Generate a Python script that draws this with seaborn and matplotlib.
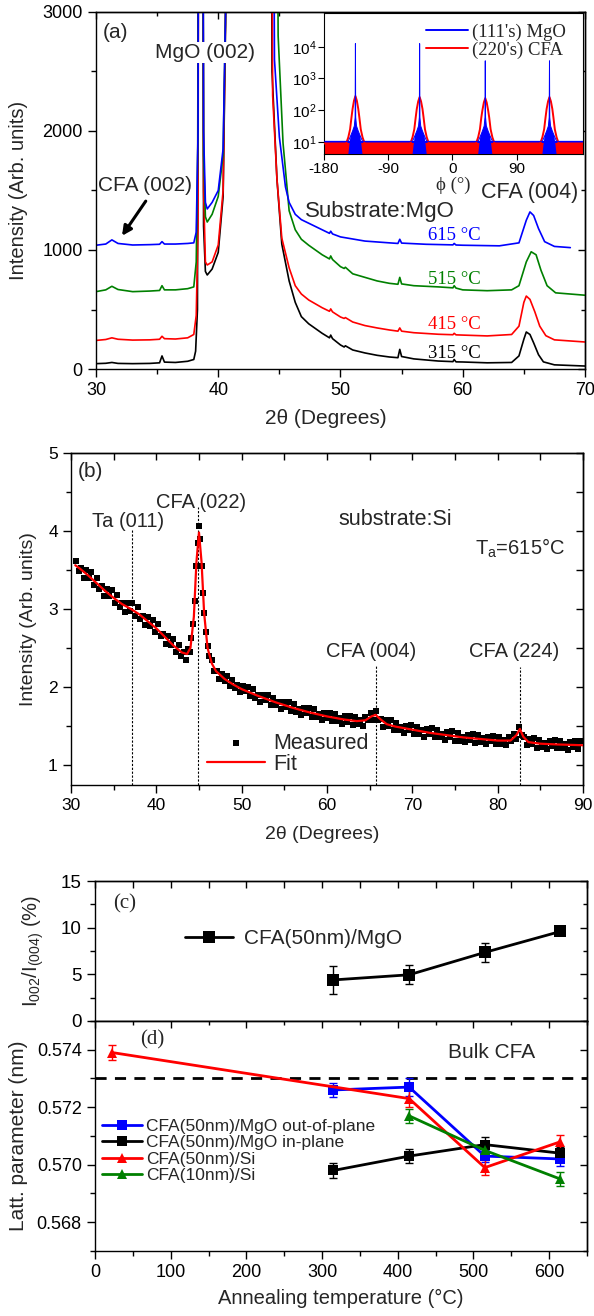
import numpy as np
import pandas as pd
import matplotlib
matplotlib.use("Agg")
import matplotlib.pyplot as plt
import seaborn as sns
from matplotlib.ticker import MultipleLocator, NullLocator, NullFormatter, FixedLocator, FormatStrFormatter

# ======================= DATA =======================
# (a) 2theta scans of CFA(50nm)/MgO annealed at different temperatures (2theta, intensity)
scan_315 = [(30.0, 45), (30.8, 48), (31.3, 55), (31.8, 47), (33.0, 45), (34.4, 47), (35.2, 52), (35.4, 110),
            (35.6, 58), (36.5, 55), (37.5, 65), (38.0, 80), (38.15, 150), (38.3, 500), (38.45, 9000),
            (38.65, 9000), (38.8, 1200), (38.95, 820), (39.1, 790), (39.5, 840), (40.0, 980), (40.4, 1450),
            (40.6, 2900), (40.75, 9000), (44.2, 9000), (44.4, 2500), (44.8, 1600), (45.2, 1050), (45.8, 740),
            (46.3, 560), (46.8, 440), (47.4, 380), (48.5, 300), (49.1, 262), (49.2, 285), (49.35, 255),
            (50.0, 202), (50.3, 185), (50.4, 195), (51.0, 160), (52.0, 135), (53.0, 115), (54.0, 101),
            (54.7, 95), (54.85, 165), (55.0, 105), (56.0, 85), (58.0, 67), (59.2, 62), (59.3, 80), (59.45, 60),
            (60.0, 59), (62.0, 52), (64.0, 55), (64.6, 110), (65.0, 250), (65.2, 311), (65.5, 290),
            (65.8, 220), (66.2, 120), (66.6, 60), (67.5, 35), (70.0, 25)]
scan_415 = [(30.0, 240), (30.8, 248), (31.3, 262), (31.8, 250), (33.0, 243), (34.4, 245), (35.2, 250),
            (35.4, 275), (35.6, 255), (36.5, 252), (37.5, 262), (38.0, 290), (38.2, 450), (38.35, 1200),
            (38.45, 9000), (38.65, 9000), (38.8, 1500), (38.95, 900), (39.1, 874), (39.5, 900), (40.0, 1042),
            (40.4, 1500), (40.6, 3000), (40.75, 9000), (44.2, 9000), (44.45, 2300), (44.8, 1600), (45.2, 1100),
            (45.8, 850), (46.3, 700), (46.8, 630), (47.4, 580), (48.5, 515), (49.1, 485), (49.2, 505),
            (49.35, 480), (50.0, 437), (50.3, 425), (50.4, 432), (51.0, 395), (52.0, 365), (53.0, 345),
            (54.0, 328), (54.7, 318), (54.85, 345), (55.0, 318), (56.0, 305), (58.0, 292), (59.2, 288),
            (59.3, 300), (59.45, 287), (60.0, 285), (62.0, 278), (64.0, 290), (64.6, 360), (65.0, 560),
            (65.2, 613), (65.5, 585), (65.9, 480), (66.3, 360), (66.8, 280), (67.5, 245), (70.0, 227)]
scan_515 = [(30.0, 650), (30.8, 665), (31.3, 695), (31.8, 668), (33.0, 650), (34.4, 655), (35.2, 660),
            (35.4, 700), (35.6, 665), (36.5, 665), (37.5, 675), (38.0, 690), (38.2, 900), (38.35, 2000),
            (38.45, 9000), (38.65, 9000), (38.8, 1800), (38.95, 1280), (39.1, 1235), (39.5, 1300), (40.0, 1450),
            (40.4, 1800), (40.6, 3000), (40.75, 9000), (44.6, 9000), (44.9, 2800), (45.3, 1900), (45.8, 1330),
            (46.3, 1170), (46.8, 1090), (47.4, 1040), (48.5, 960), (49.1, 925), (49.2, 950), (49.35, 920),
            (50.0, 860), (50.3, 845), (50.4, 855), (51.0, 800), (52.0, 770), (53.0, 740), (54.0, 720),
            (54.7, 712), (54.85, 770), (55.0, 715), (56.0, 700), (58.0, 690), (59.2, 682), (59.3, 700),
            (59.45, 680), (60.0, 665), (62.0, 658), (64.0, 665), (64.6, 700), (65.2, 900), (65.6, 985),
            (66.0, 960), (66.4, 830), (66.9, 700), (67.6, 640), (70.0, 620)]
scan_615 = [(30.0, 1040), (30.8, 1050), (31.3, 1085), (31.8, 1055), (33.0, 1042), (34.4, 1045), (35.2, 1048),
            (35.4, 1070), (35.6, 1050), (36.5, 1050), (37.5, 1055), (38.0, 1060), (38.2, 1150), (38.35, 2000),
            (38.45, 9000), (38.65, 9000), (38.8, 2000), (38.95, 1400), (39.1, 1345), (39.5, 1400), (40.0, 1500),
            (40.4, 1850), (40.6, 3000), (40.75, 9000), (44.3, 9000), (44.6, 2600), (45.0, 1950), (45.5, 1530),
            (45.8, 1400), (46.3, 1300), (46.8, 1255), (47.4, 1225), (48.5, 1170), (49.1, 1140), (49.2, 1158),
            (49.35, 1135), (50.0, 1110), (52.0, 1075), (54.0, 1060), (54.7, 1055), (54.85, 1090), (55.0, 1058),
            (57.0, 1048), (59.2, 1043), (59.3, 1055), (59.45, 1042), (60.0, 1040), (63.0, 1035), (64.6, 1060),
            (65.2, 1250), (65.5, 1320), (65.8, 1290), (66.2, 1180), (66.7, 1070), (67.5, 1030), (68.8, 1020)]
scan_labels = ["315 °C", "415 °C", "515 °C", "615 °C"]

# (a) inset: phi scans (phi, counts)
phi_cfa220 = [(-180, 9), (-149, 9), (-146, 14), (-143.5, 25), (-141.5, 60), (-140, 110), (-138, 200), (-136, 280),
              (-134, 200), (-132, 110), (-130.5, 60), (-128.5, 25), (-126, 14), (-123, 9),
              (-59, 9), (-56, 14), (-53.5, 25), (-51.5, 60), (-50, 110), (-48, 190), (-46, 260), (-44, 190),
              (-42, 110), (-40.5, 60), (-38.5, 25), (-36, 14), (-33, 9),
              (33, 9), (36, 14), (38.5, 25), (40.5, 60), (42, 100), (44, 175), (46, 240), (48, 175), (50, 100),
              (51.5, 60), (53.5, 25), (56, 14), (59, 9),
              (123, 9), (126, 14), (128.5, 25), (130.5, 60), (132, 110), (134, 190), (136, 260), (138, 190),
              (140, 110), (141.5, 60), (143.5, 25), (146, 14), (149, 9), (183, 9)]
phi_mgo111 = [(-180, 10.5), (-146, 10.5), (-143, 15), (-140, 22), (-137.5, 32), (-136.4, 60), (-136, 12500),
              (-135.6, 60), (-134.5, 32), (-132, 22), (-129, 15), (-126, 10.5),
              (-56, 10.5), (-53, 15), (-50, 22), (-47.5, 32), (-46.4, 60), (-46, 12500), (-45.6, 60), (-44.5, 32),
              (-42, 22), (-39, 15), (-36, 10.5),
              (36, 10.5), (39, 15), (42, 22), (44.5, 32), (45.6, 60), (46, 3600), (46.4, 60), (47.5, 32), (50, 22),
              (53, 15), (56, 10.5),
              (126, 10.5), (129, 15), (132, 22), (134.5, 32), (135.6, 60), (136, 3600), (136.4, 60), (137.5, 32),
              (140, 22), (143, 15), (146, 10.5), (183, 10.5)]
mgo_noise_level = 10.5
cfa_noise_level = 9.5

# (b) CFA on Si, Ta = 615 C (2theta, intensity)
measured_b = [
    (30.6, 3.62), (30.9, 3.48), (31.2, 3.52), (31.5, 3.39), (31.8, 3.50), (32.1, 3.39), (32.4, 3.47), (32.7, 3.30),
    (33.0, 3.40), (33.3, 3.25), (33.6, 3.29), (33.9, 3.16), (34.2, 3.26), (34.5, 3.16), (34.8, 3.24), (35.1, 3.07),
    (35.4, 3.18), (35.7, 3.03), (36.0, 3.08), (36.3, 2.96), (36.6, 3.07), (36.9, 2.97), (37.2, 3.07), (37.5, 2.91),
    (37.8, 3.02), (38.1, 2.87), (38.4, 2.91), (38.7, 2.79), (39.0, 2.89), (39.3, 2.78), (39.6, 2.86), (39.9, 2.70),
    (40.2, 2.80), (40.5, 2.65), (40.8, 2.68), (41.1, 2.55), (41.4, 2.65), (41.7, 2.53), (42.0, 2.61), (42.3, 2.44),
    (42.6, 2.54), (42.9, 2.40), (43.2, 2.45), (43.5, 2.34), (43.7, 2.48), (43.9, 2.44), (44.1, 2.62), (44.3, 2.80),
    (44.5, 3.10), (44.7, 3.55), (44.85, 3.85), (45.0, 4.06), (45.15, 3.90), (45.3, 3.55), (45.45, 3.20),
    (45.6, 2.95), (45.8, 2.70), (46.0, 2.52), (46.2, 2.40),
    (46.5, 2.35), (46.8, 2.20), (47.1, 2.20), (47.4, 2.10), (47.7, 2.17), (48.0, 2.08), (48.3, 2.14), (48.6, 2.01),
    (48.9, 2.09), (49.2, 1.98), (49.5, 2.02), (49.8, 1.93), (50.1, 2.01), (50.4, 1.94), (50.7, 2.00), (51.0, 1.88),
    (51.3, 1.97), (51.6, 1.86), (51.9, 1.90), (52.2, 1.81), (52.5, 1.90), (52.8, 1.83), (53.1, 1.90), (53.4, 1.77),
    (53.7, 1.86), (54.0, 1.76), (54.3, 1.80), (54.6, 1.72), (54.9, 1.81), (55.2, 1.74), (55.5, 1.81), (55.8, 1.69),
    (56.1, 1.78), (56.4, 1.68), (56.7, 1.72), (57.0, 1.64), (57.3, 1.73), (57.6, 1.66), (57.9, 1.73), (58.2, 1.61),
    (58.5, 1.71), (58.8, 1.61), (59.1, 1.65), (59.4, 1.57), (59.7, 1.67), (60.0, 1.60), (60.3, 1.67), (60.6, 1.56),
    (60.9, 1.65), (61.2, 1.56), (61.5, 1.60), (61.8, 1.52), (62.1, 1.62), (62.4, 1.55), (62.7, 1.63), (63.0, 1.51),
    (63.3, 1.61), (63.6, 1.52), (63.9, 1.57), (64.2, 1.50), (64.5, 1.61), (64.8, 1.57), (65.1, 1.67), (65.4, 1.58),
    (65.7, 1.69), (66.0, 1.57), (66.3, 1.59), (66.6, 1.49), (66.9, 1.57), (67.2, 1.50), (67.5, 1.57), (67.8, 1.45),
    (68.1, 1.54), (68.4, 1.44), (68.7, 1.49), (69.0, 1.41), (69.3, 1.50), (69.6, 1.44), (69.9, 1.51), (70.2, 1.40),
    (70.5, 1.49), (70.8, 1.39), (71.1, 1.44), (71.4, 1.36), (71.7, 1.46), (72.0, 1.39), (72.3, 1.47), (72.6, 1.35),
    (72.9, 1.45), (73.2, 1.35), (73.5, 1.40), (73.8, 1.32), (74.1, 1.42), (74.4, 1.35), (74.7, 1.43), (75.0, 1.31),
    (75.3, 1.41), (75.6, 1.31), (75.9, 1.36), (76.2, 1.29), (76.5, 1.38), (76.8, 1.32), (77.1, 1.40), (77.4, 1.28),
    (77.7, 1.38), (78.0, 1.29), (78.3, 1.34), (78.6, 1.26), (78.9, 1.36), (79.2, 1.30), (79.5, 1.37), (79.8, 1.26),
    (80.1, 1.36), (80.4, 1.27), (80.7, 1.32), (81.0, 1.25), (81.3, 1.35), (81.6, 1.30), (81.9, 1.40), (82.2, 1.33),
    (82.5, 1.49), (82.8, 1.38), (83.1, 1.36), (83.4, 1.25), (83.7, 1.33), (84.0, 1.26), (84.3, 1.34), (84.6, 1.22),
    (84.9, 1.32), (85.2, 1.23), (85.5, 1.28), (85.8, 1.20), (86.1, 1.30), (86.4, 1.24), (86.7, 1.32), (87.0, 1.21),
    (87.3, 1.31), (87.6, 1.22), (87.9, 1.26), (88.2, 1.19), (88.5, 1.29), (88.8, 1.23), (89.1, 1.31), (89.4, 1.20),
    (89.7, 1.30)]
fit_b = [(30.5, 3.56), (31, 3.52), (32, 3.43), (33, 3.33), (34, 3.23), (35, 3.14), (36, 3.06), (37, 3.00),
         (38, 2.93), (39, 2.84), (40, 2.75), (41, 2.64), (42, 2.53), (43, 2.44), (43.6, 2.42), (44.0, 2.50),
         (44.4, 2.90), (44.7, 3.60), (45.0, 3.98), (45.3, 3.60), (45.6, 2.95), (46.0, 2.50), (46.5, 2.30),
         (47, 2.20), (48, 2.10), (49, 2.03), (50, 1.97), (52, 1.88), (54, 1.80), (56, 1.73), (58, 1.67),
         (60, 1.62), (62, 1.58), (63.5, 1.56), (64.5, 1.57), (65.2, 1.62), (65.7, 1.64), (66.3, 1.58),
         (67, 1.52), (68, 1.49), (70, 1.45), (72, 1.41), (74, 1.38), (76, 1.35), (78, 1.33), (80, 1.31),
         (81.5, 1.31), (82.2, 1.38), (82.6, 1.46), (83.0, 1.36), (83.6, 1.29), (85, 1.27), (87, 1.26), (90, 1.25)]
peak_pos_b = [37.2, 44.9, 65.7, 82.6]
peak_top_b = [4.01, 4.31, 2.28, 2.26]
peak_names_b = ["Ta (011)", "CFA (022)", "CFA (004)", "CFA (224)"]

# (c) intensity ratio
anneal_T = [315, 415, 515, 615]
ratio_002_004 = [4.4, 4.95, 7.35, 9.6]
ratio_err = [1.5, 1.0, 1.0, 0.3]

# (d) lattice parameters (nm)
T_mgo = [315, 415, 515, 615]
latt_oop = [0.5726, 0.5727, 0.5703, 0.5702]
err_oop = [0.00025, 0.0003, 0.0002, 0.00025]
latt_ip = [0.5698, 0.5703, 0.5707, 0.5704]
err_ip = [0.00025, 0.00025, 0.00025, 0.0002]
T_si50 = [23, 415, 515, 615]
latt_si50 = [0.5739, 0.5723, 0.5699, 0.5708]
err_si50 = [0.00025, 0.0003, 0.00025, 0.00025]
T_si10 = [415, 515, 615]
latt_si10 = [0.5717, 0.5705, 0.5695]
err_si10 = [0.00025, 0.0002, 0.00025]
bulk_cfa = 0.573

# ======================= STYLE =======================
sns.set_style("ticks")
plt.rcParams['font.family'] = ['Liberation Sans', 'DejaVu Sans']
plt.rcParams['mathtext.fontset'] = 'custom'
plt.rcParams['mathtext.rm'] = 'Liberation Sans'
plt.rcParams['mathtext.it'] = 'Liberation Sans:italic'
plt.rcParams['mathtext.bf'] = 'Liberation Sans:bold'
plt.rcParams['axes.unicode_minus'] = False
plt.rcParams['axes.edgecolor'] = 'black'
plt.rcParams['axes.linewidth'] = 1.0
plt.rcParams['xtick.color'] = 'black'
plt.rcParams['ytick.color'] = 'black'
SERIF = ['Liberation Serif', 'DejaVu Serif']
BLUE, RED, GREEN, BLACK = '#0000ff', '#ff0000', '#008000', '#000000'

fig = plt.figure(figsize=(5.94, 13.16), dpi=100)


def df_of(pts):
    return pd.DataFrame(pts, columns=['x', 'y'])


def line(ax, pts, color, lw, label=None, **kw):
    sns.lineplot(data=df_of(pts), x='x', y='y', ax=ax, color=color, lw=lw, sort=False,
                 estimator=None, label=label, legend=False, **kw)


def base_ticks(ax, xmaj, xmin, ymaj, ymin, size):
    ax.xaxis.set_major_locator(MultipleLocator(xmaj))
    ax.xaxis.set_minor_locator(MultipleLocator(xmin))
    ax.yaxis.set_major_locator(MultipleLocator(ymaj))
    ax.yaxis.set_minor_locator(MultipleLocator(ymin))
    ax.tick_params(which='both', direction='out', top=False, right=False, width=1, labelsize=size)
    ax.tick_params(which='major', length=6)
    ax.tick_params(which='minor', length=3.5)


def mirror(ax, top_maj=None, top_min=None, right_maj=None, right_min=None):
    if top_maj is not None:
        sx = ax.secondary_xaxis('top')
        sx.xaxis.set_major_locator(MultipleLocator(top_maj))
        if top_min:
            sx.xaxis.set_minor_locator(MultipleLocator(top_min))
        sx.xaxis.set_major_formatter(NullFormatter())
        sx.tick_params(which='both', direction='in', width=1)
        sx.tick_params(which='major', length=5)
        sx.tick_params(which='minor', length=3)
    if right_maj is not None:
        sy = ax.secondary_yaxis('right')
        sy.yaxis.set_major_locator(MultipleLocator(right_maj))
        if right_min:
            sy.yaxis.set_minor_locator(MultipleLocator(right_min))
        sy.yaxis.set_major_formatter(NullFormatter())
        sy.tick_params(which='both', direction='in', width=1)
        sy.tick_params(which='major', length=5)
        sy.tick_params(which='minor', length=3)


# ======================= (a) =======================
ax_a = fig.add_axes([0.1616, 0.7196, 0.8232, 0.2713])
for pts, col in zip([scan_315, scan_415, scan_515, scan_615], [BLACK, RED, GREEN, BLUE]):
    line(ax_a, pts, col, 1.2)
ax_a.set_xlim(30, 70)
ax_a.set_ylim(0, 3000)
base_ticks(ax_a, 10, 5, 1000, 500, 13)
mirror(ax_a, 10, 5, 1000, 500)
ax_a.set_xlabel("2θ (Degrees)", fontsize=15)
ax_a.set_ylabel("Intensity (Arb. units)", fontsize=14.5)
ax_a.xaxis.set_label_coords(0.47, -0.112)
ax_a.yaxis.set_label_coords(-0.139, 0.5)

ax_a.text(30.55, 2830, "(a)", fontsize=15, va='center')
ax_a.text(38.9, 2660, "MgO (002)", fontsize=15, ha='center', va='center',
          bbox=dict(facecolor='white', edgecolor='none', pad=0.5), zorder=5)
ax_a.text(30.15, 1546, "CFA (002)", fontsize=15, va='center')
ax_a.annotate('', xy=(32.0, 1100), xytext=(34.2, 1430),
              arrowprops=dict(arrowstyle='-|>', lw=2.2, color='black', mutation_scale=14))
ax_a.text(47.1, 1320, "Substrate:MgO", fontsize=16, va='center')
ax_a.text(61.5, 1480, "CFA (004)", fontsize=15.5, va='center')
for lab, yv, col in zip(scan_labels, [134, 378, 748, 1126], [BLACK, RED, GREEN, BLUE]):
    ax_a.text(59.35, yv, lab, fontsize=13.5, color=col, ha='center', va='center', family=SERIF)

# inset
axi = fig.add_axes([0.5455, 0.8830, 0.4360, 0.1071])
pm = df_of(phi_mgo111)
pc = df_of(phi_cfa220)
axi.set_yscale('log')
axi.fill_between(pm['x'], 4, mgo_noise_level, color=BLUE, lw=0, zorder=1)
axi.fill_between(pc['x'], 4, cfa_noise_level, color=RED, lw=0, zorder=2)
line(axi, phi_cfa220, RED, 1.4, label="(220's) CFA", zorder=3)
axi.fill_between(pm['x'], 4, pm['y'], where=pm['y'] > mgo_noise_level, interpolate=True,
                 color=BLUE, lw=0, zorder=4)
line(axi, phi_mgo111, BLUE, 0.7, label="(111's) MgO", zorder=5)
axi.set_xlim(-180, 183)
axi.set_ylim(4.2, 1.15e5)
axi.xaxis.set_major_locator(FixedLocator([-180, -90, 0, 90]))
axi.xaxis.set_minor_locator(NullLocator())
axi.yaxis.set_major_locator(FixedLocator([10, 100, 1000, 10000]))
axi.yaxis.set_minor_locator(NullLocator())
axi.tick_params(which='both', direction='out', length=4, width=0.8, labelsize=11, pad=1.5)
for sp in axi.spines.values():
    sp.set_linewidth(0.8)
axi.set_xlabel("ϕ (°)", fontsize=13.5, family=SERIF, labelpad=1)
axi.set_ylabel("")
h, l = axi.get_legend_handles_labels()
order = [l.index("(111's) MgO"), l.index("(220's) CFA")]
leg_i = axi.legend([h[i] for i in order], [l[i] for i in order], loc='center left',
                   bbox_to_anchor=(0.395, 0.80), frameon=False, prop={'family': SERIF, 'size': 13.5},
                   handlelength=2.2, handletextpad=0.25, labelspacing=0.05, borderpad=0, borderaxespad=0)
for lh in leg_i.get_lines():
    lh.set_linewidth(1.4)

# ======================= (b) =======================
ax_b = fig.add_axes([0.1195, 0.4035, 0.8620, 0.2523])
mb = df_of(measured_b)
sns.scatterplot(data=mb, x='x', y='y', ax=ax_b, marker='s', s=17, color=BLACK, linewidth=0,
                label='Measured', legend=False, zorder=2)
line(ax_b, fit_b, RED, 1.6, label='Fit', zorder=3)
ax_b.vlines(peak_pos_b, 0.74, peak_top_b, colors=BLACK, linestyles=(0, (2, 1.5)), lw=0.8, zorder=1)
ax_b.set_xlim(30, 90)
ax_b.set_ylim(0.74, 5)
base_ticks(ax_b, 10, 5, 1, 0.5, 12.5)
mirror(ax_b, 5, None, 0.5, None)
ax_b.set_xlabel("2θ (Degrees)", fontsize=14)
ax_b.set_ylabel("Intensity (Arb. units)", fontsize=14)
ax_b.xaxis.set_label_coords(0.49, -0.123)
ax_b.yaxis.set_label_coords(-0.066, 0.5)
ax_b.text(30.8, 4.76, "(b)", fontsize=15, va='center')
for name, xc, yc in zip(peak_names_b, [36.7, 45.3, 65.2, 81.9], [4.12, 4.37, 2.45, 2.45]):
    ax_b.text(xc, yc, name, fontsize=14.5, ha='center', va='center')
ax_b.text(61.3, 4.14, "substrate:Si", fontsize=15.5, va='center')
ax_b.text(77.4, 3.78, "T$_\\mathrm{a}$=615°C", fontsize=14.5, va='center')
ax_b.legend(loc='lower left', bbox_to_anchor=(0.266, 0.03), frameon=False, fontsize=15.5,
            handlelength=2.7, handletextpad=0.35, labelspacing=0.0, borderpad=0, borderaxespad=0,
            markerscale=1.2)

# ======================= (c) =======================
ax_c = fig.add_axes([0.1599, 0.2242, 0.8283, 0.1063])
ax_c.errorbar(anneal_T, ratio_002_004, yerr=ratio_err, fmt='none', ecolor=BLACK, elinewidth=1,
              capsize=3, capthick=1, zorder=2)
sns.lineplot(x=anneal_T, y=ratio_002_004, ax=ax_c, color=BLACK, lw=2, marker='s', markersize=9,
             markeredgewidth=0, label='CFA(50nm)/MgO', legend=False, zorder=3)
ax_c.set_xlim(0, 650)
ax_c.set_ylim(0, 15)
base_ticks(ax_c, 100, 50, 5, 2.5, 13.5)
ax_c.tick_params(axis='x', which='both', bottom=False, labelbottom=False)
mirror(ax_c, 50, None, 5, 2.5)
ax_c.set_xlabel("")
ax_c.set_ylabel("I$_{\\mathrm{002}}$/I$_{\\mathrm{(004)}}$ (%)", fontsize=14.5)
ax_c.yaxis.set_label_coords(-0.10, 0.5)
ax_c.text(24, 12.6, "(c)", fontsize=15, va='center', family=SERIF)
ax_c.legend(loc='center left', bbox_to_anchor=(0.183, 0.586), frameon=False, fontsize=15,
            handlelength=2.3, handletextpad=0.55, borderpad=0, borderaxespad=0)

# ======================= (d) =======================
ax_d = fig.add_axes([0.1599, 0.0494, 0.8283, 0.1748])
ax_d.axhline(bulk_cfa, color=BLACK, lw=2, ls=(0, (4, 3)), zorder=1)
series_d = [(T_mgo, latt_oop, err_oop, BLUE, 's', 6.5, 'CFA(50nm)/MgO out-of-plane'),
            (T_mgo, latt_ip, err_ip, BLACK, 's', 6.5, 'CFA(50nm)/MgO in-plane'),
            (T_si50, latt_si50, err_si50, RED, '^', 7.5, 'CFA(50nm)/Si'),
            (T_si10, latt_si10, err_si10, GREEN, '^', 7.5, 'CFA(10nm)/Si')]
for xs, ys, es, col, mk, ms, lab in series_d:
    ax_d.errorbar(xs, ys, yerr=es, fmt='none', ecolor=col, elinewidth=1, capsize=3, capthick=1, zorder=2)
    sns.lineplot(x=xs, y=ys, ax=ax_d, color=col, lw=2, marker=mk, markersize=ms, markeredgewidth=0,
                 label=lab, legend=False, zorder=3)
ax_d.set_xlim(0, 650)
ax_d.set_ylim(0.567, 0.575)
base_ticks(ax_d, 100, 50, 0.002, 0.001, 13)
ax_d.yaxis.set_major_formatter(FormatStrFormatter('%.3f'))
mirror(ax_d, 100, 50, 0.002, 0.001)
ax_d.set_xlabel("Annealing temperature (°C)", fontsize=14.5)
ax_d.set_ylabel("Latt. parameter (nm)", fontsize=15)
ax_d.xaxis.set_label_coords(0.5, -0.165)
ax_d.yaxis.set_label_coords(-0.136, 0.5)
ax_d.text(60, 0.57435, "(d)", fontsize=15, va='center', family=SERIF)
ax_d.text(466, 0.5739, "Bulk CFA", fontsize=15, va='center')
ax_d.legend(loc='center left', bbox_to_anchor=(0.014, 0.435), frameon=False, fontsize=12.5,
            handlelength=2.3, handletextpad=0.23, labelspacing=0.08, borderpad=0, borderaxespad=0)

fig.savefig("out.png", dpi=100)
